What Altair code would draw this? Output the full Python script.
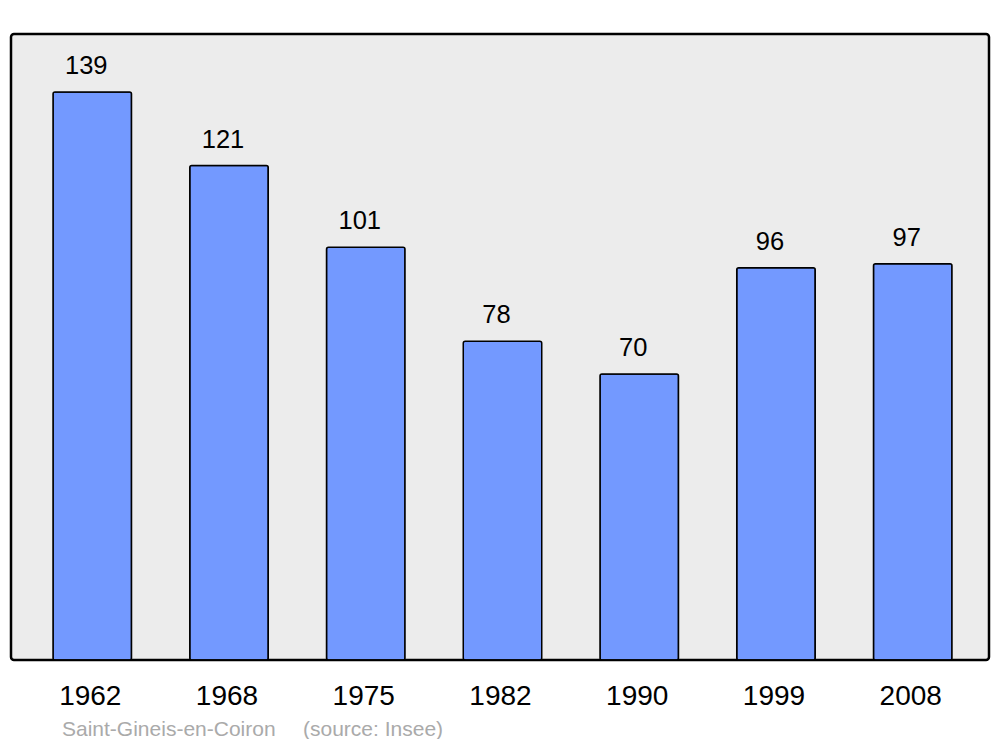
import altair as alt
import pandas as pd

years = ["1962", "1968", "1975", "1982", "1990", "1999", "2008"]
population = [139, 121, 101, 78, 70, 96, 97]
commune = "Saint-Gineis-en-Coiron"
source = "(source: Insee)"

df = pd.DataFrame({"year": years, "pop": population})

FONT = "Liberation Sans"

x = alt.X("year:N", sort=years, title=None,
          scale=alt.Scale(range=[1, 982], paddingInner=0.426, paddingOuter=0.3),
          axis=alt.Axis(labelAngle=0, labelFontSize=28, labelFont=FONT, labelColor="black",
                        ticks=False, tickSize=0, domain=False, labelPadding=44,
                        labelBaseline="alphabetic", labelOffset=-2, grid=False))
y = alt.Y("pop:Q", title=None, scale=alt.Scale(domain=[0, 153.2], nice=False, zero=True),
          axis=None)

base = alt.Chart(df)

bars = base.mark_bar(fill="#7399ff", stroke="black", strokeWidth=1.5,
                     cornerRadius=2).encode(x=x, y=y)

labels = base.mark_text(font=FONT, fontSize=25.5, color="black", baseline="alphabetic",
                        dy=-18, dx=-6).encode(x=x, y=y, text="pop:Q")

foot_df = pd.DataFrame({"a": [commune], "b": [source]})
foot1 = alt.Chart(foot_df).mark_text(font=FONT, fontSize=21, color="#aaaaaa", align="left",
                                     baseline="alphabetic").encode(
    x=alt.value(51), y=alt.value(702), text="a:N")
foot2 = alt.Chart(foot_df).mark_text(font=FONT, fontSize=21, color="#aaaaaa", align="left",
                                     baseline="alphabetic").encode(
    x=alt.value(292), y=alt.value(702), text="b:N")

chart = alt.layer(bars, labels, foot1, foot2).properties(
    width=978, height=626,
    autosize=alt.AutoSizeParams(type="none"),
    padding={"left": 3, "top": 26, "right": 3, "bottom": 79},
    background="white",
).configure_view(
    fill="#ececec", stroke="black", strokeWidth=2.5, cornerRadius=3
)

chart.save("out.html", embed_options={"renderer": "svg", "actions": False})
